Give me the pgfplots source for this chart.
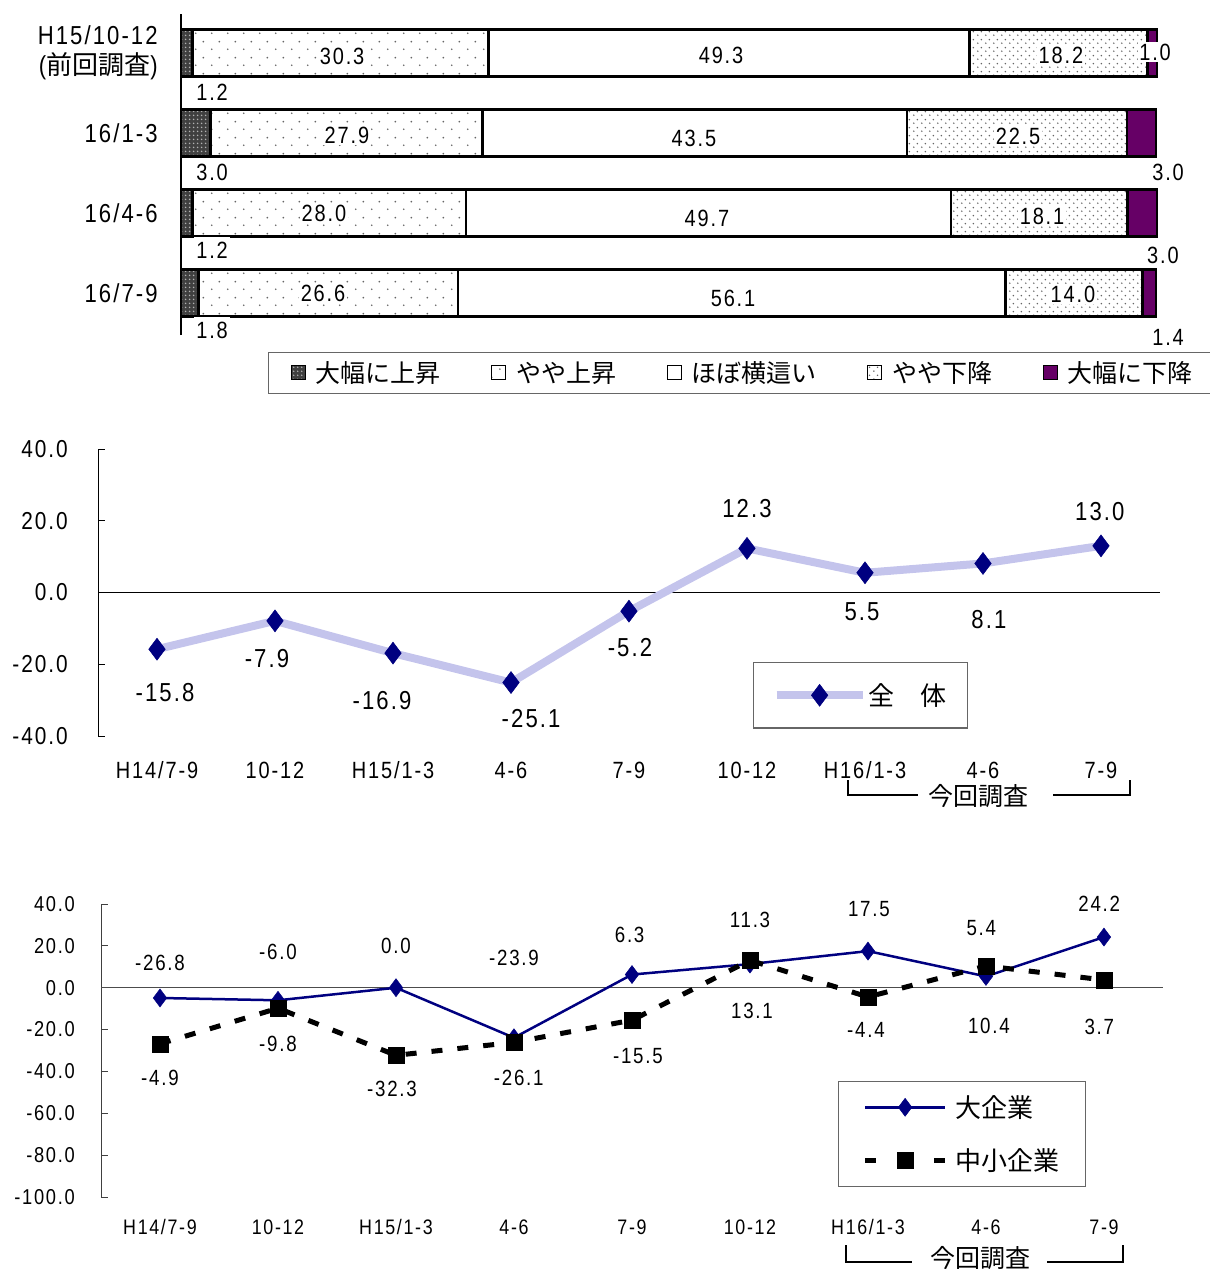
\documentclass[border=0pt]{standalone}
\usepackage{fontspec}
\setmainfont{Liberation Sans}[FakeStretch=0.85,LetterSpace=8]
\newfontfamily\cjk{Noto Sans CJK JP}
\usepackage{pgfplots}
\pgfplotsset{compat=1.18}
\usetikzlibrary{patterns}

\definecolor{navy}{RGB}{0,0,128}
\definecolor{lav}{RGB}{196,196,236}
\definecolor{plum}{RGB}{102,0,102}

% dot fills of the bar segments
\pgfdeclarepatternformonly{sparsedots}{\pgfqpoint{0pt}{0pt}}{\pgfqpoint{16pt}{16pt}}{\pgfqpoint{16pt}{16pt}}{%
  \pgfpathcircle{\pgfqpoint{4pt}{4pt}}{1pt}\pgfusepath{fill}%
  \pgfpathcircle{\pgfqpoint{12pt}{12pt}}{1pt}\pgfusepath{fill}}
\pgfdeclarepatternformonly{densedots}{\pgfqpoint{0pt}{0pt}}{\pgfqpoint{8pt}{8pt}}{\pgfqpoint{8pt}{8pt}}{%
  \pgfpathcircle{\pgfqpoint{2pt}{2pt}}{0.9pt}\pgfusepath{fill}%
  \pgfpathcircle{\pgfqpoint{6pt}{6pt}}{0.9pt}\pgfusepath{fill}}
\pgfdeclarepatternformonly{griddots}{\pgfqpoint{0pt}{0pt}}{\pgfqpoint{4pt}{4pt}}{\pgfqpoint{4pt}{4pt}}{%
  \pgfpathcircle{\pgfqpoint{2pt}{2pt}}{1pt}\pgfusepath{fill}}

\tikzset{
  toplbl/.style={fill=white, inner sep=1.5pt, font=\fontsize{23.5}{28}\selectfont},
  botlbl/.style={fill=white, inner xsep=2pt, inner ysep=5pt, font=\fontsize{23.5}{28}\selectfont},
  mlbl/.style={inner sep=0pt, font=\fontsize{26}{30}\selectfont},
  blbl/.style={inner sep=0pt, font=\fontsize{22}{26}\selectfont},
}
\pgfplotsset{
  topframe/.style={at={(181pt,-335pt)}, anchor=south west,
    scale only axis, width=976pt, height=321pt,
    xmin=0, xmax=100, ymin=-0.525, ymax=3.4875, clip=false},
  boxleg/.style={legend image code/.code={\draw[##1, line width=1pt] (0pt,-7pt) rectangle (14pt,7pt);}},
  lineleg/.style={legend image code/.code={\draw[##1,mark repeat=2,mark phase=2] plot coordinates {(0pt,0pt) (#1/2,0pt) (#1,0pt)};}},
  dashleg/.style={legend image code/.code={\draw[##1,dash pattern=on 11pt off 58pt,mark repeat=2,mark phase=2] plot coordinates {(0pt,0pt) (40pt,0pt) (80pt,0pt)};}},
}

\begin{document}
\begin{tikzpicture}
\path[use as bounding box] (0pt,0pt) rectangle (1210pt,-1269pt);

% ---------------- top: stacked bars ----------------
\begin{axis}[
  topframe,
  xbar stacked, bar width=47pt,
  axis lines=left, axis line style={-},
  x axis line style={draw=none},
  y axis line style={line width=1.3pt},
  xtick=\empty,
  ytick={0,1,2,3},
  yticklabels={16/7-9,16/4-6,16/1-3,{H15/10-12\\({\cjk 前回調査})}},
  ytick style={draw=none},
  yticklabel style={anchor=east, inner sep=0pt, xshift=-21pt, align=right,
    font=\fontsize{26}{30}\selectfont},
  every axis plot/.append style={draw=black, line width=2.5pt},
  legend columns=5,
  legend style={at={(0.0891,-0.053)}, anchor=north west, draw=black!60,
    line width=1.2pt, font=\cjk\fontsize{25}{30}\selectfont,
    inner xsep=22pt, inner ysep=7pt, nodes={inner sep=2pt},
    /tikz/every odd column/.append style={column sep=8pt},
    /tikz/every even column/.append style={column sep=48.5pt}},
  boxleg,
]
\addplot[fill=black!75, postaction={pattern=griddots, pattern color=black!30}]
  coordinates {(1.8,0) (1.2,1) (3.0,2) (1.2,3)};
\addlegendentry{大幅に上昇}
\addplot[fill=white, postaction={pattern=sparsedots, pattern color=black!60}]
  coordinates {(26.6,0) (28.0,1) (27.9,2) (30.3,3)};
\addlegendentry{やや上昇}
\addplot[fill=white]
  coordinates {(56.1,0) (49.7,1) (43.5,2) (49.3,3)};
\addlegendentry{ほぼ横這い}
\addplot[fill=white, postaction={pattern=densedots, pattern color=black!60}]
  coordinates {(14.0,0) (18.1,1) (22.5,2) (18.2,3)};
\addlegendentry{やや下降}
\addplot[fill=plum]
  coordinates {(1.4,0) (3.0,1) (3.0,2) (1.0,3)};
\addlegendentry{大幅に下降}
\end{axis}

% value labels of the bars, on top of them
\begin{axis}[topframe, hide axis]
\node[toplbl] at (axis cs:16.5,2.9625) {30.3};
\node[toplbl] at (axis cs:55.33,2.975) {49.3};
\node[toplbl] at (axis cs:90.16,2.975) {18.2};
\node[toplbl] at (axis cs:99.8,3.0125) {1.0};
\node[botlbl] at (axis cs:3.18,2.5125) {1.2};
\node[toplbl] at (axis cs:17.0,1.975) {27.9};
\node[toplbl] at (axis cs:52.56,1.9375) {43.5};
\node[toplbl] at (axis cs:85.76,1.9625) {22.5};
\node[botlbl] at (axis cs:3.18,1.5125) {3.0};
\node[botlbl] at (axis cs:101.13,1.5125) {3.0};
\node[toplbl] at (axis cs:14.65,1.0) {28.0};
\node[toplbl] at (axis cs:53.89,0.9375) {49.7};
\node[toplbl] at (axis cs:88.22,0.9625) {18.1};
\node[botlbl] at (axis cs:3.18,0.5375) {1.2};
\node[botlbl] at (axis cs:100.6,0.475) {3.0};
\node[toplbl] at (axis cs:14.55,0) {26.6};
\node[toplbl] at (axis cs:56.56,-0.0625) {56.1};
\node[toplbl] at (axis cs:91.39,-0.0125) {14.0};
\node[botlbl] at (axis cs:3.18,-0.4625) {1.8};
\node[botlbl] at (axis cs:101.13,-0.55) {1.4};
\end{axis}

% ---------------- middle: 全体 ----------------
\begin{axis}[
  at={(98pt,-736pt)}, anchor=south west,
  scale only axis, width=1062pt, height=287pt,
  xmin=-0.5, xmax=8.5, ymin=-40, ymax=40,
  axis lines=left, axis line style={-},
  x axis line style={draw=none},
  y axis line style={line width=1pt},
  xtick={0,...,8},
  xticklabels={H14/7-9,10-12,H15/1-3,4-6,7-9,10-12,H16/1-3,4-6,7-9},
  xtick style={draw=none},
  xticklabel style={anchor=base, inner sep=0pt, yshift=-42pt, font=\fontsize{23.5}{28}\selectfont},
  ytick={-40,-20,0,20,40},
  yticklabels={-40.0,-20.0,0.0,20.0,40.0},
  tick align=inside, major tick length=7pt,
  ytick style={black, line width=1pt},
  yticklabel style={anchor=east, inner sep=0pt, xshift=-30pt, font=\fontsize{24.5}{28}\selectfont},
  clip=false,
  legend style={at={(0.6168,0.2578)}, anchor=north west, draw=black!60,
    line width=1.2pt, font=\cjk\fontsize{26}{30}\selectfont,
    inner xsep=19pt, inner ysep=19pt},
]
\draw[line width=1.2pt] (axis cs:-0.5,0) -- (axis cs:8.5,0);
\addplot[color=lav, line width=8pt, mark=diamond*, mark size=11pt,
  mark options={fill=navy, draw=navy, line width=0.5pt}, lineleg=86pt]
  coordinates {(0,-15.8) (1,-7.9) (2,-16.9) (3,-25.1) (4,-5.2) (5,12.3) (6,5.5) (7,8.1) (8,13.0)};
\addlegendentry{全　体}

\node[mlbl] at (axis cs:0.068,-27.87) {-15.8};
\node[mlbl] at (axis cs:0.932,-18.4) {-7.9};
\node[mlbl] at (axis cs:1.907,-30.1) {-16.9};
\node[mlbl] at (axis cs:3.17,-35.12) {-25.1};
\node[mlbl] at (axis cs:4.008,-15.33) {-5.2};
\node[mlbl] at (axis cs:5.0,23.41) {12.3};
\node[mlbl] at (axis cs:5.975,-5.30) {5.5};
\node[mlbl] at (axis cs:7.05,-7.53) {8.1};
\node[mlbl] at (axis cs:7.99,22.58) {13.0};
\end{axis}

% ---------------- bottom: 大企業 / 中小企業 ----------------
\begin{axis}[
  at={(101pt,-1197pt)}, anchor=south west,
  scale only axis, width=1062pt, height=293pt,
  xmin=-0.5, xmax=8.5, ymin=-100, ymax=40,
  axis lines=left, axis line style={-},
  x axis line style={draw=none},
  y axis line style={line width=1pt, black!75},
  xtick={0,...,8},
  xticklabels={H14/7-9,10-12,H15/1-3,4-6,7-9,10-12,H16/1-3,4-6,7-9},
  xtick style={draw=none},
  xticklabel style={anchor=base, inner sep=0pt, yshift=-37pt, font=\fontsize{21}{25}\selectfont},
  ytick={-100,-80,-60,-40,-20,0,20,40},
  yticklabels={-100.0,-80.0,-60.0,-40.0,-20.0,0.0,20.0,40.0},
  tick align=inside, major tick length=7pt,
  ytick style={black!75, line width=1pt},
  yticklabel style={anchor=east, inner sep=0pt, xshift=-26pt, font=\fontsize{21.5}{25}\selectfont},
  clip=false,
  legend style={at={(0.694,0.396)}, anchor=north west, draw=black!60,
    line width=1.2pt, font=\cjk\fontsize{26}{30}\selectfont,
    inner xsep=24pt, inner ysep=12pt, row sep=26pt,
    /tikz/every odd column/.append style={column sep=6pt}},
  legend cell align=left,
]
\draw[line width=1.2pt, black!70] (axis cs:-0.5,0) -- (axis cs:8.5,0);
\addplot[color=navy, line width=2.5pt, mark=diamond*, mark size=9pt,
  mark options={fill=navy, line width=0.5pt}, lineleg=80pt]
  coordinates {(0,-4.9) (1,-6.0) (2,0.0) (3,-23.9) (4,6.3) (5,11.3) (6,17.5) (7,5.4) (8,24.2)};
\addlegendentry{大企業}
\addplot[color=black, line width=5pt, dash pattern=on 11pt off 15pt, mark=square*, mark size=8pt,
  mark options={solid, fill=black, line width=0.5pt}, dashleg]
  coordinates {(0,-26.8) (1,-9.8) (2,-32.3) (3,-26.1) (4,-15.5) (5,13.1) (6,-4.4) (7,10.4) (8,3.7)};
\addlegendentry{中小企業}

\node[blbl] at (axis cs:0,11.8) {-26.8};
\node[blbl] at (axis cs:1,17.1) {-6.0};
\node[blbl] at (axis cs:2,19.9) {0.0};
\node[blbl] at (axis cs:3,14.2) {-23.9};
\node[blbl] at (axis cs:3.98,25.2) {6.3};
\node[blbl] at (axis cs:5,32.4) {11.3};
\node[blbl] at (axis cs:6.008,37.6) {17.5};
\node[blbl] at (axis cs:6.96,28.5) {5.4};
\node[blbl] at (axis cs:7.96,40.0) {24.2};
\node[blbl] at (axis cs:0,-43.1) {-4.9};
\node[blbl] at (axis cs:1,-26.9) {-9.8};
\node[blbl] at (axis cs:1.966,-48.4) {-32.3};
\node[blbl] at (axis cs:3.04,-43.1) {-26.1};
\node[blbl] at (axis cs:4.05,-32.6) {-15.5};
\node[blbl] at (axis cs:5.017,-11.1) {13.1};
\node[blbl] at (axis cs:5.983,-20.2) {-4.4};
\node[blbl] at (axis cs:7.025,-18.3) {10.4};
\node[blbl] at (axis cs:7.96,-18.8) {3.7};
\end{axis}

% 今回調査 brackets
\draw[line width=1.3pt] (848pt,-780pt) -- (848pt,-795pt) -- (918pt,-795pt);
\draw[line width=1.3pt] (1053pt,-795pt) -- (1130pt,-795pt) -- (1130pt,-780pt);
\node[font=\cjk\fontsize{25}{28}\selectfont, inner sep=0pt] at (978pt,-796pt) {今回調査};
\draw[line width=1.3pt] (846pt,-1245pt) -- (846pt,-1262pt) -- (912pt,-1262pt);
\draw[line width=1.3pt] (1047pt,-1262pt) -- (1123pt,-1262pt) -- (1123pt,-1245pt);
\node[font=\cjk\fontsize{25}{28}\selectfont, inner sep=0pt] at (980pt,-1258pt) {今回調査};
\end{tikzpicture}
\end{document}
